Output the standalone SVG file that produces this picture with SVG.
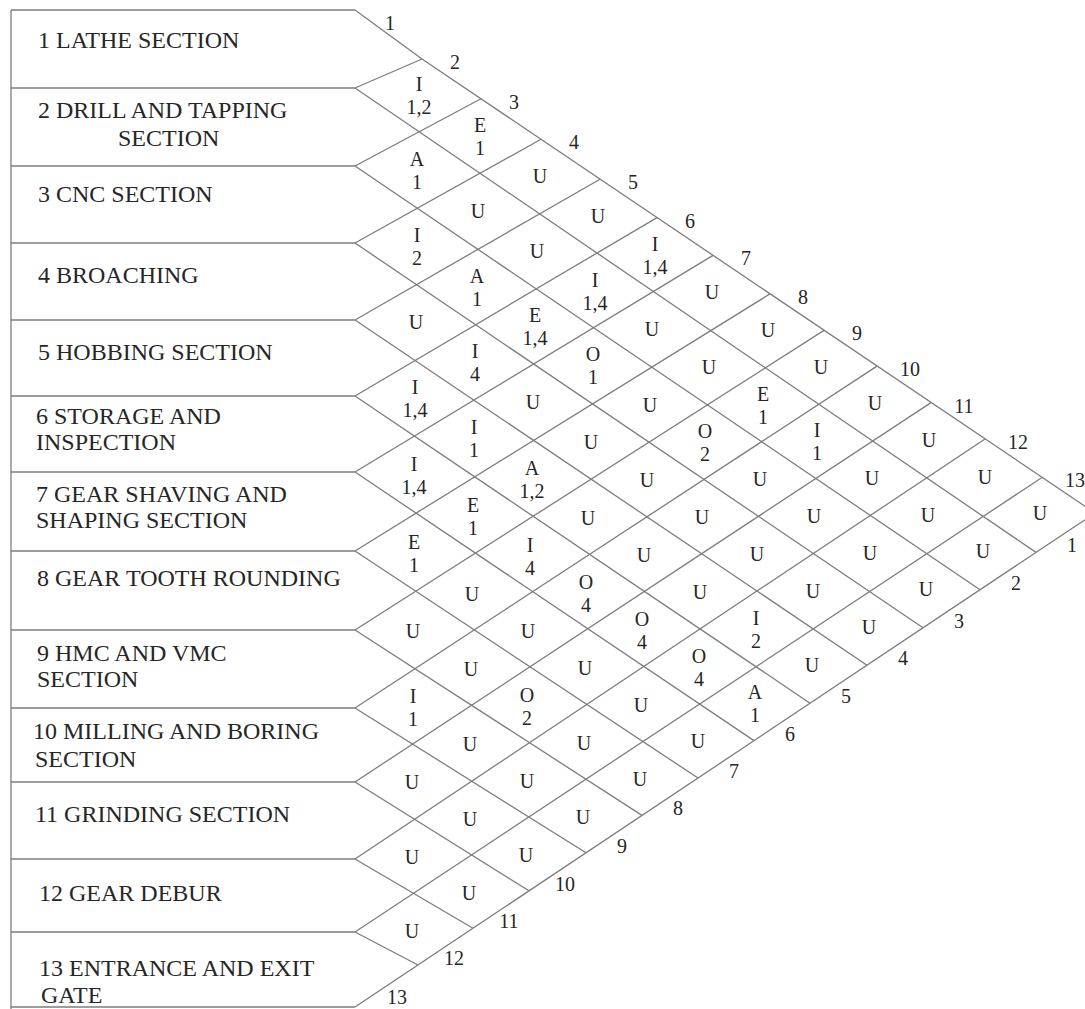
<svg xmlns="http://www.w3.org/2000/svg" width="1085" height="1009" viewBox="0 0 1085 1009">
<style>
.ln{stroke:#7d7d7d;stroke-width:1.3;fill:none}
.lab{font-family:"Liberation Serif",serif;font-size:24px;fill:#262626}
.c{font-family:"Liberation Serif",serif;font-size:20px;fill:#262626;text-anchor:middle}
.n{font-family:"Liberation Serif",serif;font-size:20px;fill:#262626;text-anchor:middle}
</style>
<rect width="1085" height="1009" fill="#fff"/>
<g id="connectors">
<path class="ln" d="M11,10V1009"/>
<path class="ln" d="M11,10H355M11,88H355M11,166H355M11,243H355M11,320H355M11,396H355M11,472H355M11,551H355M11,630H355M11,708H355M11,782H355M11,859H355M11,932H355M11,1007H355"/>
<path class="ln" d="M355,10L422,59L1095,513M355,1007L1095,513"/>
<path class="ln" d="M355,88L422,59M355,166L481,98.8M355,243L541,139.3M355,320L600,179.2M355,396L657,217.6M355,472L713,255.4M355,551L770,293.9M355,630L824,330.4M355,708L877,366.1M355,782L931,402.6M355,859L985,439M355,932L1042,477.5"/>
<path class="ln" d="M355,88L1036,552.4M355,166L980,589.8M355,243L923,627.8M355,320L867,665.2M355,396L810,703.2M355,472L754,740.6M355,551L698,778M355,630L642,815.4M355,708L586,852.8M355,782L529,890.8M355,859L473,928.2M355,932L418,965"/>
</g>
<g id="dept-1"><text class="lab" x="38" y="48">1 LATHE SECTION</text></g>
<g id="dept-2"><text class="lab" x="38" y="118">2 DRILL AND TAPPING</text><text class="lab" x="118" y="146">SECTION</text></g>
<g id="dept-3"><text class="lab" x="38" y="202">3 CNC SECTION</text></g>
<g id="dept-4"><text class="lab" x="38" y="283">4 BROACHING</text></g>
<g id="dept-5"><text class="lab" x="38" y="360">5 HOBBING SECTION</text></g>
<g id="dept-6"><text class="lab" x="36" y="424">6 STORAGE AND</text><text class="lab" x="36" y="450">INSPECTION</text></g>
<g id="dept-7"><text class="lab" x="36" y="502">7 GEAR SHAVING AND</text><text class="lab" x="36" y="528">SHAPING SECTION</text></g>
<g id="dept-8"><text class="lab" x="37" y="586">8 GEAR TOOTH ROUNDING</text></g>
<g id="dept-9"><text class="lab" x="37" y="661">9 HMC AND VMC</text><text class="lab" x="37" y="687">SECTION</text></g>
<g id="dept-10"><text class="lab" x="33" y="739">10 MILLING AND BORING</text><text class="lab" x="35" y="767">SECTION</text></g>
<g id="dept-11"><text class="lab" x="35" y="822">11 GRINDING SECTION</text></g>
<g id="dept-12"><text class="lab" x="39" y="901">12 GEAR DEBUR</text></g>
<g id="dept-13"><text class="lab" x="39" y="976">13 ENTRANCE AND EXIT</text><text class="lab" x="41" y="1003">GATE</text></g>
<g id="numbers">
<text class="n" x="390" y="30">1</text><text class="n" x="455" y="69">2</text><text class="n" x="514" y="109">3</text><text class="n" x="574" y="149">4</text><text class="n" x="633" y="189">5</text><text class="n" x="690" y="228">6</text><text class="n" x="746" y="265">7</text><text class="n" x="803" y="304">8</text><text class="n" x="857" y="340">9</text><text class="n" x="910" y="376">10</text><text class="n" x="964" y="413">11</text><text class="n" x="1018" y="449">12</text><text class="n" x="1075" y="487">13</text>
<text class="n" x="1072" y="552">1</text><text class="n" x="1016" y="590">2</text><text class="n" x="959" y="628">3</text><text class="n" x="903" y="665">4</text><text class="n" x="846" y="703">5</text><text class="n" x="790" y="741">6</text><text class="n" x="734" y="778">7</text><text class="n" x="678" y="815">8</text><text class="n" x="622" y="853">9</text><text class="n" x="565" y="891">10</text><text class="n" x="509" y="928">11</text><text class="n" x="454" y="965">12</text><text class="n" x="397" y="1004">13</text>
</g>
<g id="cells">
<g id="c1-2"><text class="c" x="419" y="91">I</text><text class="c" x="419" y="114">1,2</text></g>
<g id="c2-3"><text class="c" x="417" y="166">A</text><text class="c" x="417" y="189">1</text></g>
<g id="c1-3"><text class="c" x="480" y="132">E</text><text class="c" x="480" y="155">1</text></g>
<g id="c3-4"><text class="c" x="417" y="242">I</text><text class="c" x="417" y="265">2</text></g>
<g id="c2-4"><text class="c" x="478" y="218">U</text></g>
<g id="c1-4"><text class="c" x="540" y="183">U</text></g>
<g id="c4-5"><text class="c" x="416" y="329">U</text></g>
<g id="c3-5"><text class="c" x="477" y="283">A</text><text class="c" x="477" y="306">1</text></g>
<g id="c2-5"><text class="c" x="537" y="258">U</text></g>
<g id="c1-5"><text class="c" x="598" y="223">U</text></g>
<g id="c5-6"><text class="c" x="415" y="394">I</text><text class="c" x="415" y="417">1,4</text></g>
<g id="c4-6"><text class="c" x="475" y="358">I</text><text class="c" x="475" y="381">4</text></g>
<g id="c3-6"><text class="c" x="535" y="322">E</text><text class="c" x="535" y="345">1,4</text></g>
<g id="c2-6"><text class="c" x="595" y="287">I</text><text class="c" x="595" y="310">1,4</text></g>
<g id="c1-6"><text class="c" x="655" y="251">I</text><text class="c" x="655" y="274">1,4</text></g>
<g id="c6-7"><text class="c" x="414" y="471">I</text><text class="c" x="414" y="494">1,4</text></g>
<g id="c5-7"><text class="c" x="474" y="434">I</text><text class="c" x="474" y="457">1</text></g>
<g id="c4-7"><text class="c" x="533" y="409">U</text></g>
<g id="c3-7"><text class="c" x="593" y="361">O</text><text class="c" x="593" y="384">1</text></g>
<g id="c2-7"><text class="c" x="652" y="336">U</text></g>
<g id="c1-7"><text class="c" x="712" y="299">U</text></g>
<g id="c7-8"><text class="c" x="414" y="549">E</text><text class="c" x="414" y="572">1</text></g>
<g id="c6-8"><text class="c" x="473" y="512">E</text><text class="c" x="473" y="535">1</text></g>
<g id="c5-8"><text class="c" x="532" y="475">A</text><text class="c" x="532" y="498">1,2</text></g>
<g id="c4-8"><text class="c" x="591" y="449">U</text></g>
<g id="c3-8"><text class="c" x="650" y="412">U</text></g>
<g id="c2-8"><text class="c" x="709" y="374">U</text></g>
<g id="c1-8"><text class="c" x="768" y="337">U</text></g>
<g id="c8-9"><text class="c" x="413" y="638">U</text></g>
<g id="c7-9"><text class="c" x="472" y="601">U</text></g>
<g id="c6-9"><text class="c" x="530" y="552">I</text><text class="c" x="530" y="575">4</text></g>
<g id="c5-9"><text class="c" x="588" y="525">U</text></g>
<g id="c4-9"><text class="c" x="647" y="487">U</text></g>
<g id="c3-9"><text class="c" x="705" y="438">O</text><text class="c" x="705" y="461">2</text></g>
<g id="c2-9"><text class="c" x="763" y="401">E</text><text class="c" x="763" y="424">1</text></g>
<g id="c1-9"><text class="c" x="821" y="374">U</text></g>
<g id="c9-10"><text class="c" x="413" y="703">I</text><text class="c" x="413" y="726">1</text></g>
<g id="c8-10"><text class="c" x="471" y="676">U</text></g>
<g id="c7-10"><text class="c" x="528" y="638">U</text></g>
<g id="c6-10"><text class="c" x="586" y="589">O</text><text class="c" x="586" y="612">4</text></g>
<g id="c5-10"><text class="c" x="644" y="562">U</text></g>
<g id="c4-10"><text class="c" x="702" y="524">U</text></g>
<g id="c3-10"><text class="c" x="760" y="486">U</text></g>
<g id="c2-10"><text class="c" x="817" y="437">I</text><text class="c" x="817" y="460">1</text></g>
<g id="c1-10"><text class="c" x="875" y="410">U</text></g>
<g id="c10-11"><text class="c" x="412" y="789">U</text></g>
<g id="c9-11"><text class="c" x="470" y="751">U</text></g>
<g id="c8-11"><text class="c" x="527" y="702">O</text><text class="c" x="527" y="725">2</text></g>
<g id="c7-11"><text class="c" x="585" y="675">U</text></g>
<g id="c6-11"><text class="c" x="642" y="626">O</text><text class="c" x="642" y="649">4</text></g>
<g id="c5-11"><text class="c" x="700" y="599">U</text></g>
<g id="c4-11"><text class="c" x="757" y="561">U</text></g>
<g id="c3-11"><text class="c" x="814" y="523">U</text></g>
<g id="c2-11"><text class="c" x="872" y="485">U</text></g>
<g id="c1-11"><text class="c" x="929" y="447">U</text></g>
<g id="c11-12"><text class="c" x="412" y="864">U</text></g>
<g id="c10-12"><text class="c" x="470" y="826">U</text></g>
<g id="c9-12"><text class="c" x="527" y="788">U</text></g>
<g id="c8-12"><text class="c" x="584" y="750">U</text></g>
<g id="c7-12"><text class="c" x="641" y="712">U</text></g>
<g id="c6-12"><text class="c" x="699" y="663">O</text><text class="c" x="699" y="686">4</text></g>
<g id="c5-12"><text class="c" x="756" y="625">I</text><text class="c" x="756" y="648">2</text></g>
<g id="c4-12"><text class="c" x="813" y="598">U</text></g>
<g id="c3-12"><text class="c" x="870" y="560">U</text></g>
<g id="c2-12"><text class="c" x="928" y="522">U</text></g>
<g id="c1-12"><text class="c" x="985" y="484">U</text></g>
<g id="c12-13"><text class="c" x="412" y="938">U</text></g>
<g id="c11-13"><text class="c" x="469" y="900">U</text></g>
<g id="c10-13"><text class="c" x="526" y="862">U</text></g>
<g id="c9-13"><text class="c" x="583" y="824">U</text></g>
<g id="c8-13"><text class="c" x="640" y="786">U</text></g>
<g id="c7-13"><text class="c" x="698" y="748">U</text></g>
<g id="c6-13"><text class="c" x="755" y="699">A</text><text class="c" x="755" y="722">1</text></g>
<g id="c5-13"><text class="c" x="812" y="672">U</text></g>
<g id="c4-13"><text class="c" x="869" y="634">U</text></g>
<g id="c3-13"><text class="c" x="926" y="596">U</text></g>
<g id="c2-13"><text class="c" x="983" y="558">U</text></g>
<g id="c1-13"><text class="c" x="1040" y="520">U</text></g>
</g>
</svg>
